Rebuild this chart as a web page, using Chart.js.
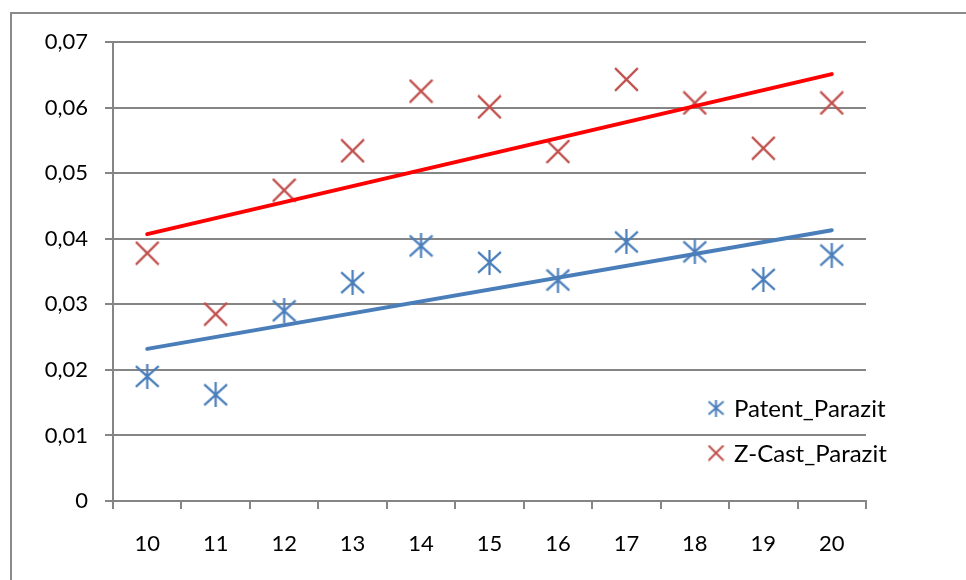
<!DOCTYPE html>
<html>
<head>
<meta charset="utf-8">
<script src="https://cdn.jsdelivr.net/npm/chart.js@4/dist/chart.umd.min.js"></script>
<style>
html,body{margin:0;padding:0;background:#fff;overflow:hidden;}
#wrap{position:absolute;left:0;top:0;width:966px;height:580px;}
</style>
</head>
<body>
<div id="wrap"><canvas id="c" width="966" height="580"></canvas></div>
<script>
// ---- data ----
const categories = ['10','11','12','13','14','15','16','17','18','19','20'];
const patentParazit = [0.0190, 0.0162, 0.0290, 0.0333, 0.0389, 0.0364, 0.0337, 0.0395, 0.0380, 0.0338, 0.0375];
const zCastParazit  = [0.0378, 0.0285, 0.0474, 0.0534, 0.0625, 0.0601, 0.0533, 0.0643, 0.0607, 0.0538, 0.0607];
// linear trend line end values (at first and last category)
const patentTrend = [0.0232, 0.0413];
const zCastTrend  = [0.0407, 0.0651];
const seriesNames = ['Patent_Parazit', 'Z-Cast_Parazit'];
const yTicks = { min: 0, max: 0.07, step: 0.01 };

const BLUE = '#4a7ebb', RED = '#c0504d', REDLINE = '#ff0000', GRID = '#858585';
const FONT = 'Lato, Carlito, Calibri, "Open Sans", sans-serif';

function trendArray(ends){
  const a = categories.map(() => null);
  a[0] = ends[0]; a[a.length - 1] = ends[1];
  return a;
}

function makeAsterisk(size, color, lw){
  const c = document.createElement('canvas');
  c.width = size; c.height = size;
  const g = c.getContext('2d');
  g.strokeStyle = color; g.lineWidth = lw; g.lineCap = 'butt';
  const m = lw/2, s = size;
  g.beginPath();
  g.moveTo(s/2, 0); g.lineTo(s/2, s);
  g.moveTo(m, m+1); g.lineTo(s-m, s-m-1);
  g.moveTo(s-m, m+1); g.lineTo(m, s-m-1);
  g.stroke();
  return c;
}
function makeCross(size, color, lw){
  const c = document.createElement('canvas');
  c.width = size; c.height = size;
  const g = c.getContext('2d');
  g.strokeStyle = color; g.lineWidth = lw; g.lineCap = 'butt';
  const m = lw/2, s = size;
  g.beginPath();
  g.moveTo(m, m); g.lineTo(s-m, s-m);
  g.moveTo(s-m, m); g.lineTo(m, s-m);
  g.stroke();
  return c;
}
const astBig = makeAsterisk(25, BLUE, 2.2);
const crossBig = makeCross(25, RED, 2.2);
const astSmall = makeAsterisk(17, BLUE, 2);
const crossSmall = makeCross(17, RED, 2);

const frame = {
  id: 'frame',
  beforeDraw(chart){
    const g = chart.ctx;
    g.save();
    g.fillStyle = '#fff';
    g.fillRect(0,0,chart.width,chart.height);
    g.strokeStyle = '#8a8a8a'; g.lineWidth = 2;
    g.beginPath();
    g.moveTo(11, chart.height + 5); g.lineTo(11, 13); g.lineTo(chart.width + 5, 13);
    g.stroke();
    g.restore();
  }
};

const legendPlugin = {
  id: 'customLegend',
  afterDraw(chart){
    const g = chart.ctx, a = chart.chartArea;
    const x0 = a.right - 150, ys = [a.bottom - 93, a.bottom - 48];
    const icons = [astSmall, crossSmall];
    g.save();
    g.font = '24px ' + FONT;
    g.fillStyle = '#000';
    g.textBaseline = 'middle';
    g.textAlign = 'left';
    for (let i = 0; i < 2; i++){
      const ic = icons[i];
      g.drawImage(ic, x0 - ic.width/2, ys[i] - ic.height/2);
      g.fillText(seriesNames[i], x0 + 18, ys[i] + 1);
    }
    g.restore();
  }
};

new Chart(document.getElementById('c'), {
  type: 'line',
  data: {
    labels: categories,
    datasets: [
      { label: seriesNames[0] + ' trend', data: trendArray(patentTrend), borderColor: BLUE, borderWidth: 4,
        pointRadius: 0, spanGaps: true, borderCapStyle: 'round', order: 0 },
      { label: seriesNames[1] + ' trend', data: trendArray(zCastTrend), borderColor: REDLINE, borderWidth: 4,
        pointRadius: 0, spanGaps: true, borderCapStyle: 'round', order: 0 },
      { label: seriesNames[0], data: patentParazit, showLine: false, pointStyle: astBig,
        borderColor: BLUE, backgroundColor: BLUE, order: 1 },
      { label: seriesNames[1], data: zCastParazit, showLine: false, pointStyle: crossBig,
        borderColor: RED, backgroundColor: RED, order: 1 }
    ]
  },
  options: {
    responsive: false,
    animation: false,
    events: [],
    layout: { padding: { left: 0, top: 42, right: 100, bottom: 0 } },
    plugins: { legend: { display: false }, tooltip: { enabled: false } },
    scales: {
      x: {
        type: 'category',
        offset: true,
        grid: { offset: true, drawOnChartArea: false, drawTicks: true, tickLength: 8, color: GRID, lineWidth: 2 },
        border: { display: true, color: GRID, width: 2 },
        ticks: { color: '#000', font: { family: FONT, size: 22 }, padding: 22, maxRotation: 0, autoSkip: false },
        afterFit(s){ s.height = 79; }
      },
      y: {
        min: yTicks.min, max: yTicks.max,
        grid: { drawTicks: true, tickLength: 8, color: GRID, lineWidth: 2 },
        border: { display: true, color: GRID, width: 2 },
        ticks: {
          stepSize: yTicks.step, color: '#000', font: { family: FONT, size: 22 }, padding: 17,
          callback: v => (Math.abs(v) < 1e-9 ? '0' : v.toFixed(2).replace('.', ','))
        },
        afterFit(s){ s.width = 113; }
      }
    }
  },
  plugins: [frame, legendPlugin]
});
</script>
</body>
</html>
